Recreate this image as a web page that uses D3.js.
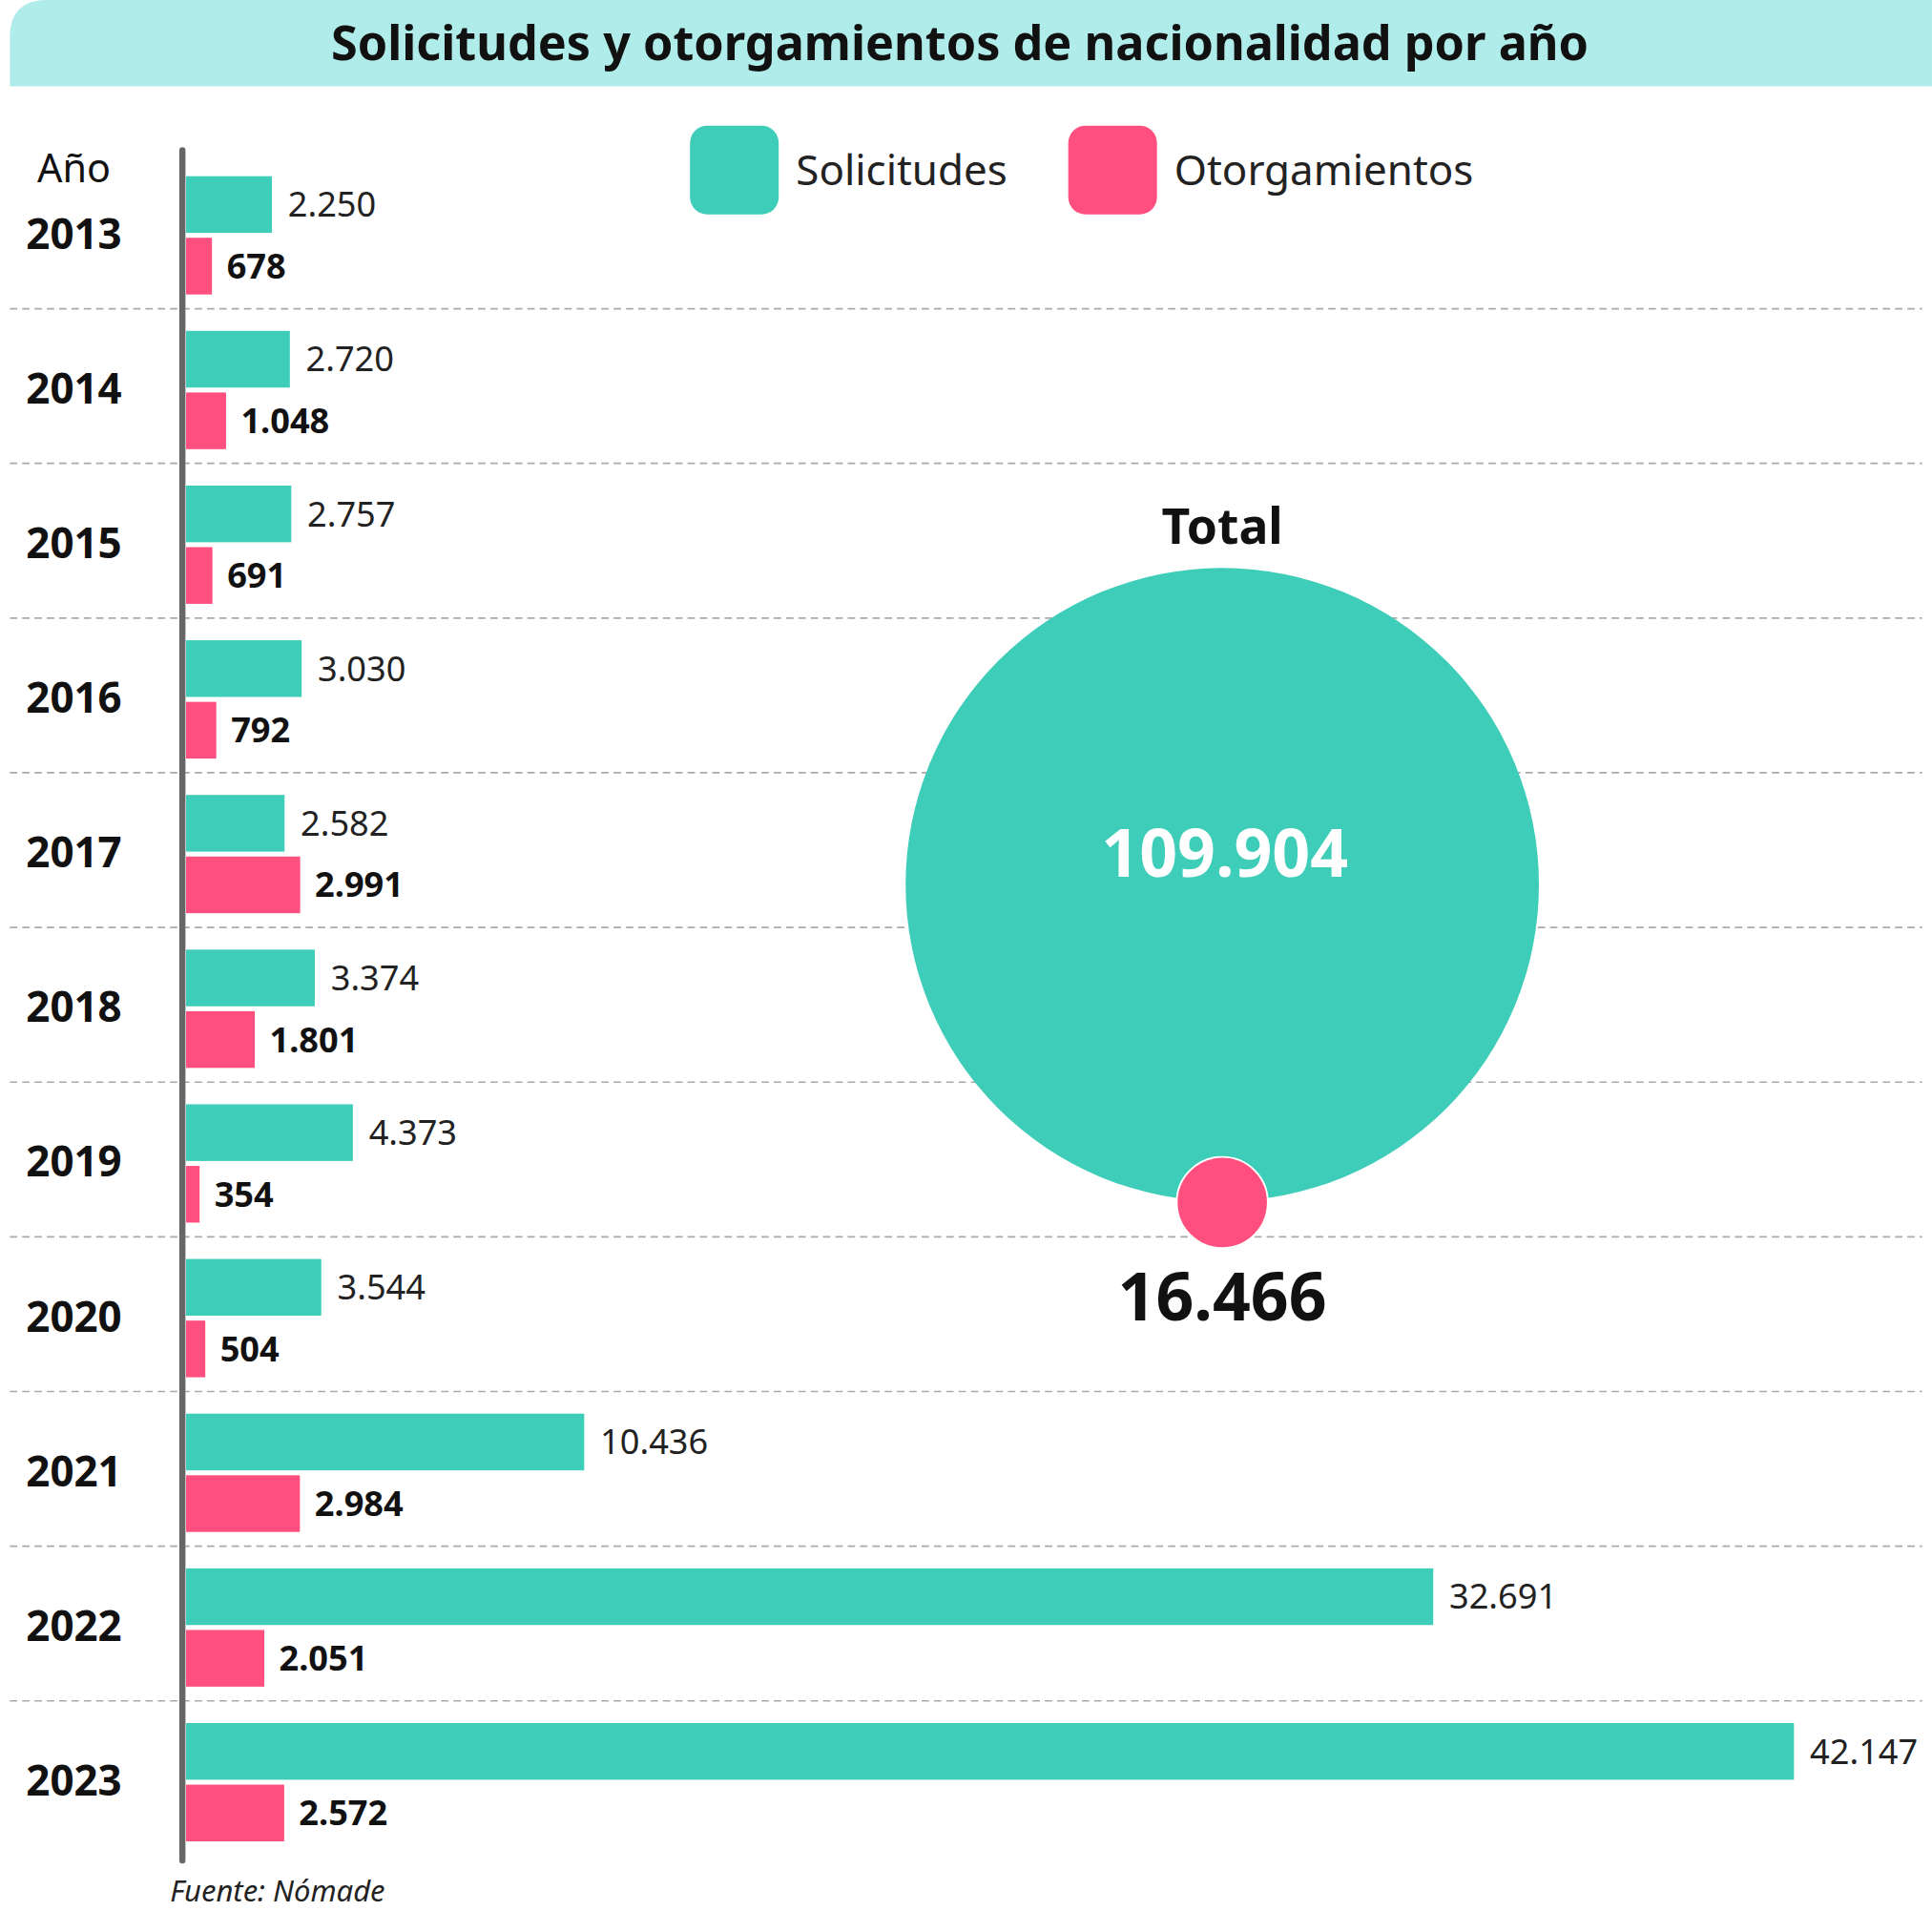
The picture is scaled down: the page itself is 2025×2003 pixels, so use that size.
<!DOCTYPE html>
<html><head><meta charset="utf-8">
<script src="https://cdn.jsdelivr.net/npm/d3@7"></script>
<style>body{margin:0;background:#fff}text{font-family:"Noto Sans",sans-serif}</style>
</head><body>
<script>
var years = ['2013','2014','2015','2016','2017','2018','2019','2020','2021','2022','2023'];
var solicitudes = [2250, 2720, 2757, 3030, 2582, 3374, 4373, 3544, 10436, 32691, 42147];
var otorgamientos = [678, 1048, 691, 792, 2991, 1801, 354, 504, 2984, 2051, 2572];
var totals = [109904, 16466];
var seriesNames = ['Solicitudes', 'Otorgamientos'];
var colors = ['#3ecdb9', '#ff4f7e'];

var fmt = function(v) { return d3.format(',')(v).replace(/,/g, '.'); };

var svg = d3.select('body').append('svg')
  .attr('width', 2025).attr('height', 2003)
  .attr('viewBox', '0 0 1568 1551');

// title band
svg.append('path').attr('fill', '#b0edea')
  .attr('d', 'M8,70 L8,30 Q8,0 38,0 L1568,0 L1568,70 Z');
svg.append('text').attr('x', 779).attr('y', 49).attr('text-anchor', 'middle')
  .attr('font-size', 39).attr('font-weight', 'bold').attr('fill', '#111')
  .text('Solicitudes y otorgamientos de nacionalidad por año');

var x = d3.scaleLinear().domain([0, 42147]).range([151, 1456]);
var y = d3.scaleBand().domain(years).range([127, 1508]);
var bh = 46;

// separators
svg.selectAll('.sep').data(years.slice(1)).enter().append('line')
  .attr('x1', 8).attr('x2', 1560)
  .attr('y1', function(d) { return y(d) - 2; }).attr('y2', function(d) { return y(d) - 2; })
  .attr('stroke', '#aaa').attr('stroke-width', 1.3).attr('stroke-dasharray', '6,4');

var rows = svg.selectAll('.row').data(years).enter().append('g')
  .attr('transform', function(d) { return 'translate(0,' + y(d) + ')'; });

rows.append('text').attr('x', 60).attr('y', y.bandwidth() / 2 + 12)
  .attr('text-anchor', 'middle').attr('font-size', 34).attr('font-weight', 'bold')
  .attr('fill', '#111').text(function(d) { return d; });

rows.append('rect').attr('x', x(0)).attr('y', 16).attr('height', bh)
  .attr('width', function(d, i) { return x(solicitudes[i]) - x(0); }).attr('fill', colors[0]);
rows.append('text').attr('x', function(d, i) { return x(solicitudes[i]) + 13; })
  .attr('y', 16 + bh / 2 + 10).attr('font-size', 28).attr('fill', '#222')
  .text(function(d, i) { return fmt(solicitudes[i]); });

rows.append('rect').attr('x', x(0)).attr('y', 66).attr('height', bh)
  .attr('width', function(d, i) { return x(otorgamientos[i]) - x(0); }).attr('fill', colors[1]);
rows.append('text').attr('x', function(d, i) { return x(otorgamientos[i]) + 12; })
  .attr('y', 66 + bh / 2 + 10).attr('font-size', 28).attr('font-weight', 'bold').attr('fill', '#111')
  .text(function(d, i) { return fmt(otorgamientos[i]); });

// axis line
svg.append('line').attr('x1', 148).attr('x2', 148).attr('y1', 122).attr('y2', 1510)
  .attr('stroke', '#666').attr('stroke-width', 5).attr('stroke-linecap', 'round');

svg.append('text').attr('x', 60).attr('y', 148).attr('text-anchor', 'middle')
  .attr('font-size', 32).attr('fill', '#111').text('Año');

// legend
var leg = svg.selectAll('.leg').data(seriesNames).enter().append('g')
  .attr('transform', function(d, i) { return 'translate(' + [560, 867][i] + ',102)'; });
leg.append('rect').attr('width', 72).attr('height', 72).attr('rx', 14)
  .attr('fill', function(d, i) { return colors[i]; });
leg.append('text').attr('x', 86).attr('y', 48).attr('font-size', 34).attr('fill', '#222')
  .text(function(d) { return d; });

// totals
var r = d3.scaleLinear().domain([totals[1], totals[0]]).range([37, 257]);
var cx = 992, cy = 718;
svg.append('circle').attr('cx', cx).attr('cy', cy).attr('r', r(totals[0])).attr('fill', colors[0]);
svg.append('circle').attr('cx', cx).attr('cy', cy + r(totals[0]) + 1).attr('r', r(totals[1]))
  .attr('fill', colors[1]).attr('stroke', '#fff').attr('stroke-width', 1.5);
svg.append('text').attr('x', cx).attr('y', 441).attr('text-anchor', 'middle')
  .attr('font-size', 40).attr('font-weight', 'bold').attr('fill', '#111').text('Total');
svg.append('text').attr('x', cx + 2).attr('y', 712).attr('text-anchor', 'middle')
  .attr('font-size', 54).attr('font-weight', 'bold').attr('fill', '#fff').text(fmt(totals[0]));
svg.append('text').attr('x', cx).attr('y', 1072).attr('text-anchor', 'middle')
  .attr('font-size', 54).attr('font-weight', 'bold').attr('fill', '#111').text(fmt(totals[1]));

svg.append('text').attr('x', 138).attr('y', 1543).attr('font-size', 24)
  .attr('font-style', 'italic').attr('fill', '#222').text('Fuente: Nómade');
</script>
</body></html>
